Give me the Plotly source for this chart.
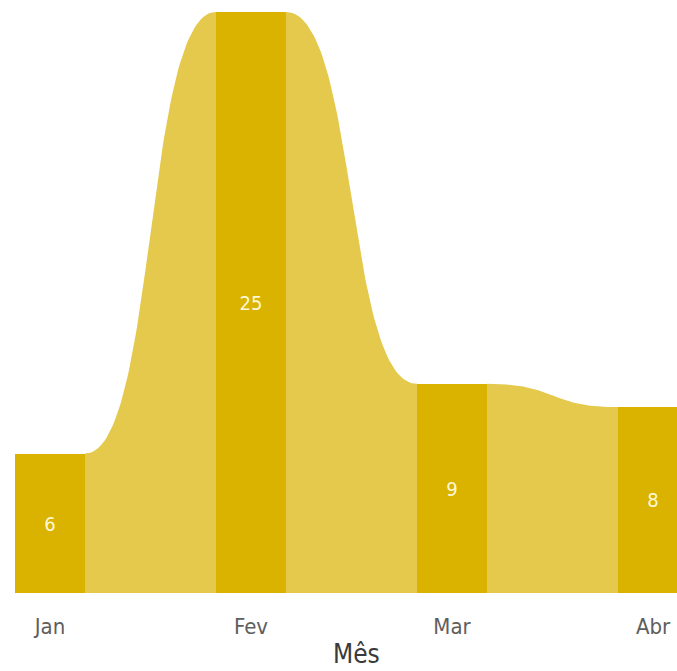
import numpy as np
import plotly.graph_objects as go

months = ["Jan", "Fev", "Mar", "Abr"]
values = [6, 25, 9, 8]

BAR_COLOR = "#D9B300"
RIBBON_COLOR = "rgb(228,201,76)"
BAR_W = 0.348
FONT = "Liberation Sans Narrow, DejaVu Sans Condensed, sans-serif"

xs = list(range(len(months)))

fig = go.Figure()

# ribbons between consecutive bars (smooth S-shaped bezier transitions)
k = 0.55
t = np.linspace(0, 1, 80)
for i in range(len(values) - 1):
    x0 = xs[i] + BAR_W / 2
    x1 = xs[i + 1] - BAR_W / 2
    y0 = values[i]
    y1 = values[i + 1]
    dx = x1 - x0
    p0 = (x0, y0)
    p1 = (x0 + k * dx, y0)
    p2 = (x1 - k * dx, y1)
    p3 = (x1, y1)
    bx = ((1 - t) ** 3) * p0[0] + 3 * ((1 - t) ** 2) * t * p1[0] + 3 * (1 - t) * t ** 2 * p2[0] + t ** 3 * p3[0]
    by = ((1 - t) ** 3) * p0[1] + 3 * ((1 - t) ** 2) * t * p1[1] + 3 * (1 - t) * t ** 2 * p2[1] + t ** 3 * p3[1]
    px = list(bx) + [x1, x0]
    py = list(by) + [0, 0]
    fig.add_trace(go.Scatter(
        x=px, y=py, fill="toself", mode="lines",
        line=dict(width=0, color=RIBBON_COLOR),
        fillcolor=RIBBON_COLOR, hoverinfo="skip", showlegend=False,
    ))

fig.add_trace(go.Bar(
    x=xs, y=values, width=BAR_W,
    marker=dict(color=BAR_COLOR, line=dict(width=0)),
    text=[str(v) for v in values],
    textposition="inside", insidetextanchor="middle", textangle=0,
    textfont=dict(color="rgb(255,248,215)", size=20, family=FONT),
    showlegend=False,
))

fig.add_annotation(
    text="Mês", xref="paper", yref="paper", x=0.5166, y=-0.105,
    xanchor="center", yanchor="middle", showarrow=False,
    font=dict(size=26, color="#3a3a3a", family=FONT),
)

fig.update_layout(
    width=677, height=671,
    margin=dict(l=15, r=0, t=12, b=78),
    paper_bgcolor="white", plot_bgcolor="white",
    bargap=0,
    xaxis=dict(
        range=[-0.174, 3.1194], tickvals=xs, ticktext=months,
        showgrid=False, zeroline=False, showline=False,
        ticks="outside", ticklen=14, tickcolor="rgba(0,0,0,0)",
        tickfont=dict(size=22, color="#605E5C", family=FONT),
        fixedrange=True,
    ),
    yaxis=dict(
        range=[0, 25], visible=False, showgrid=False, zeroline=False,
        fixedrange=True,
    ),
)

fig.write_html(
    "out.html",
    config={"displayModeBar": False},
    post_script="document.body.style.margin='0';document.body.style.overflow='hidden';",
)
